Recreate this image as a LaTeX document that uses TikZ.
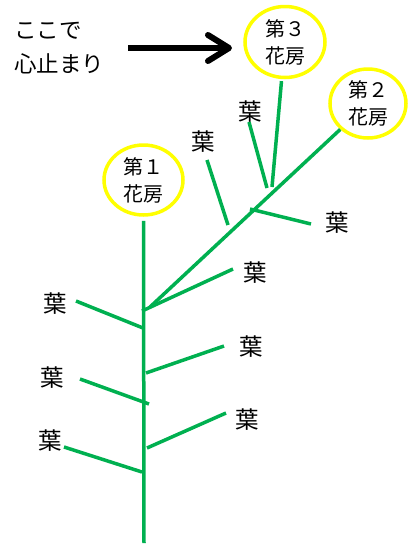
\documentclass[tikz,border=0pt]{standalone}
\usepackage{fontspec}
\setmainfont{Noto Sans CJK JP}
\usetikzlibrary{shapes.geometric}
\definecolor{stemgreen}{RGB}{0,176,80}
\definecolor{flowyellow}{RGB}{255,255,0}
\tikzset{
  cluster/.style={ellipse, draw=flowyellow, line width=3.5pt, inner sep=0pt, align=center,
    font=\fontsize{20}{27}\selectfont},
  stem/.style={draw=stemgreen, line width=3.5pt},
  leaflabel/.style={font=\fontsize{23.5}{23.5}\selectfont, inner sep=0pt},
  note/.style={font=\fontsize{22.5}{34}\selectfont, align=left, anchor=west, inner sep=0pt},
  bigarrow/.style={line width=6pt, line join=round}
}
\begin{document}
\begin{tikzpicture}[x=1pt,y=-1pt]
\useasboundingbox (0,0) rectangle (409,547);
% clusters
\node[cluster, minimum width=79pt, minimum height=70pt] (e1) at (143.5,180) {第１\\花房};
\node[cluster, minimum width=76pt, minimum height=69pt] (e2) at (368,103.5) {第２\\花房};
\node[cluster, minimum width=80pt, minimum height=71pt] (e3) at (285,42) {第３\\花房};
% note and arrow
\node[note] (note) at (14,48) {ここで\\心止まり};
\coordinate (as) at (128,48);
\coordinate (at) at (229,48);
\coordinate (aw1) at (208,35);
\coordinate (aw2) at (208,61);
\draw[bigarrow] (as) -- (at);
\draw[bigarrow, line cap=round] (aw1) -- (at) -- (aw2);
% main stem
\coordinate (base) at (144,543);
\draw[stem] (base) -- ([yshift=-4pt]e1.south);
% branches
\coordinate (b2) at (150,307);
\draw[stem] (b2) -- (e2);
\coordinate (b3) at (272,187);
\draw[stem, shorten >=2pt] (b3) -- (e3);
% leaf labels
\node[leaflabel] (l1) at (55,304) {葉};
\node[leaflabel] (l2) at (52,378) {葉};
\node[leaflabel] (l3) at (50,441) {葉};
\node[leaflabel] (r1) at (255,273) {葉};
\node[leaflabel] (r2) at (251,347) {葉};
\node[leaflabel] (r3) at (247,420) {葉};
\node[leaflabel] (u1) at (203,142) {葉};
\node[leaflabel] (u2) at (250,112) {葉};
\node[leaflabel] (u3) at (337,223) {葉};
% leaves: stem points and tips
\coordinate (s1) at (143,328); \coordinate (t1) at (76,301);
\coordinate (s2) at (149,404); \coordinate (t2) at (80,379);
\coordinate (s3) at (142,472); \coordinate (t3) at (64,447);
\coordinate (s4) at (142,311); \coordinate (t4) at (233,269);
\coordinate (s5) at (146,373); \coordinate (t5) at (224,346);
\coordinate (s6) at (147,448); \coordinate (t6) at (226,413);
\coordinate (s7) at (228,225); \coordinate (t7) at (207,160);
\coordinate (s8) at (267,188); \coordinate (t8) at (249,122);
\coordinate (s9) at (250,209); \coordinate (t9) at (311,224);
\foreach \a/\b in {s1/t1,s2/t2,s3/t3,s4/t4,s5/t5,s6/t6,s7/t7,s8/t8,s9/t9}
  \draw[stem] (\a) -- (\b);
\end{tikzpicture}
\end{document}
